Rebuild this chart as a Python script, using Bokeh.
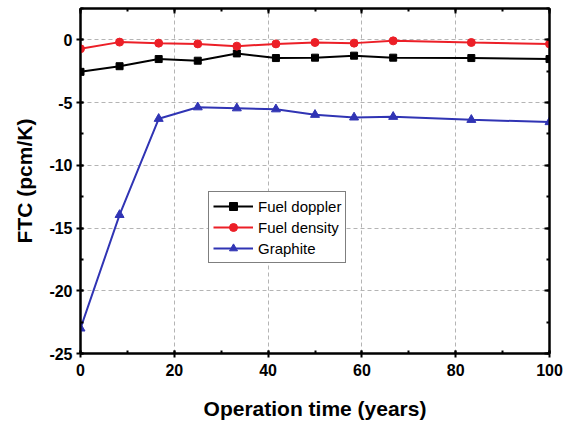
from bokeh.plotting import figure
from bokeh.models import (LinearAxis, SingleIntervalTicker, Range1d, Legend, LegendItem,
                          PrintfTickFormatter)
from bokeh.embed import file_html
from bokeh.resources import INLINE

# Data
years = [0, 8.33, 16.67, 25, 33.33, 41.67, 50, 58.33, 66.67, 83.33, 100]
fuel_doppler = [-2.55, -2.1, -1.53, -1.66, -1.08, -1.45, -1.42, -1.26, -1.42, -1.45, -1.53]
fuel_density = [-0.71, -0.18, -0.26, -0.32, -0.5, -0.32, -0.21, -0.26, -0.08, -0.21, -0.32]
graphite = [-23.0, -13.95, -6.29, -5.37, -5.45, -5.53, -5.97, -6.18, -6.13, -6.37, -6.55]

FONT = "Liberation Sans"
RED = "#ec1f27"
BLUE = "#3034b4"

p = figure(width=566, height=422, output_backend="svg", toolbar_location=None,
           x_range=Range1d(0, 100), y_range=Range1d(-25, 2.5),
           min_border_left=80, min_border_right=17, min_border_top=8, min_border_bottom=69,
           background_fill_color="white", border_fill_color="white")
p.outline_line_color = "black"
p.outline_line_width = 2

xt = SingleIntervalTicker(interval=20, num_minor_ticks=2)
yt = SingleIntervalTicker(interval=5, num_minor_ticks=2)
p.xaxis.ticker = xt
p.yaxis.ticker = yt
p.xgrid.ticker = xt
p.ygrid.ticker = yt
p.xaxis.formatter = PrintfTickFormatter(format="%d")
p.yaxis.formatter = PrintfTickFormatter(format="%d")
for g in (p.xgrid, p.ygrid):
    g.grid_line_color = "#b4b4b4"
    g.grid_line_dash = "4 3"
    g.grid_line_width = 1

for ax in (p.xaxis, p.yaxis):
    ax.axis_line_width = 2
    ax.axis_line_color = "black"
    ax.major_tick_line_width = 2
    ax.minor_tick_line_width = 2
    ax.major_tick_in = 3
    ax.major_tick_out = 4
    ax.minor_tick_in = 3
    ax.minor_tick_out = 0
    ax.major_label_text_font = FONT
    ax.major_label_text_font_style = "bold"
    ax.major_label_text_font_size = "16px"
    ax.major_label_text_color = "black"
    ax.axis_label_text_font = FONT
    ax.axis_label_text_font_style = "bold"
    ax.axis_label_text_font_size = "21px"
    ax.axis_label_text_color = "black"

p.xaxis.axis_label = "Operation time (years)"
p.yaxis.axis_label = "FTC (pcm/K)"
p.xaxis.major_label_standoff = 6
p.yaxis.major_label_standoff = 4
p.xaxis.axis_label_standoff = 18
p.yaxis.axis_label_standoff = 10

top = LinearAxis(ticker=SingleIntervalTicker(interval=20, num_minor_ticks=2))
right = LinearAxis(ticker=SingleIntervalTicker(interval=5, num_minor_ticks=2))
for ax in (top, right):
    ax.axis_line_width = 2
    ax.axis_line_color = "black"
    ax.major_tick_line_width = 2
    ax.minor_tick_line_width = 2
    ax.major_tick_line_color = "black"
    ax.minor_tick_line_color = "black"
    ax.major_tick_in = 5
    ax.major_tick_out = 0
    ax.minor_tick_in = 3
    ax.minor_tick_out = 0
    ax.major_label_text_font_size = "0px"
    ax.major_label_text_color = None
    ax.major_label_standoff = 0
p.add_layout(top, "above")
p.add_layout(right, "right")

l1 = p.line(years, fuel_doppler, line_color="black", line_width=2)
m1 = p.scatter(years, fuel_doppler, marker="square", size=7, fill_color="black", line_color="black")
l2 = p.line(years, fuel_density, line_color=RED, line_width=2)
m2 = p.scatter(years, fuel_density, marker="circle", size=8, fill_color=RED, line_color=RED)
l3 = p.line(years, graphite, line_color=BLUE, line_width=2)
m3 = p.scatter(years, graphite, marker="triangle", size=9, fill_color=BLUE, line_color=BLUE)

legend = Legend(items=[
    LegendItem(label="Fuel doppler", renderers=[l1, m1]),
    LegendItem(label="Fuel density", renderers=[l2, m2]),
    LegendItem(label="Graphite", renderers=[l3, m3]),
], location=(128, 90))
legend.border_line_color = "black"
legend.border_line_width = 1
legend.background_fill_color = "white"
legend.background_fill_alpha = 1
legend.label_text_font = FONT
legend.label_text_font_size = "15px"
legend.label_text_color = "black"
legend.glyph_width = 40
legend.glyph_height = 20
legend.label_height = 20
legend.label_standoff = 5
legend.spacing = 1
legend.padding = 4
legend.margin = 0
p.add_layout(legend, "center")

open("out.html", "w").write(file_html(p, INLINE))
